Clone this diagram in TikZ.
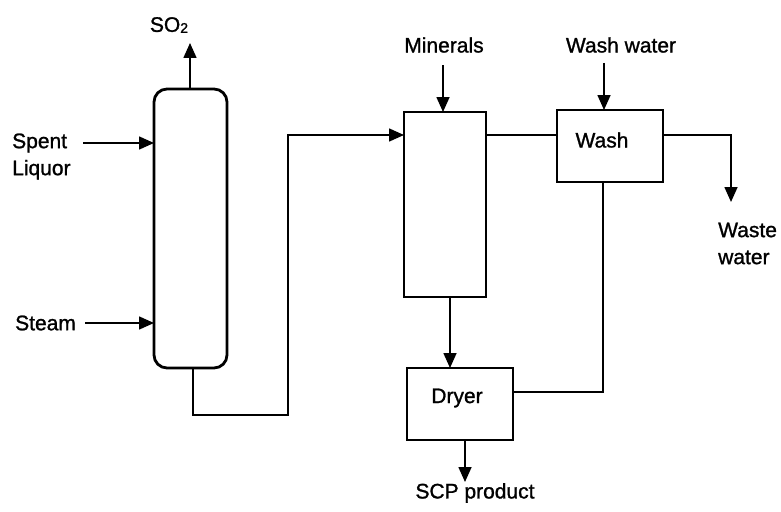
\documentclass[tikz,border=0pt]{standalone}
\usepackage{fontspec}
\setmainfont{Liberation Sans}[FakeBold=1.2]
\usetikzlibrary{arrows.meta,calc}
\begin{document}
\begin{tikzpicture}[x=1pt,y=-1pt,
  unit/.style={draw,line width=2.8pt,minimum width=#1,inner sep=0pt,outer sep=0pt},
  flow/.style={line width=1.6pt,-{Triangle[length=15pt,width=13pt]}},
  pipe/.style={line width=1.6pt},
  lbl/.style={font=\fontsize{21}{27}\selectfont,inner sep=0pt}]
\useasboundingbox (0,0) rectangle (781,511);
% units
\node[unit=73pt,minimum height=279pt,rounded corners=13pt] (col) at (190.5,228.5) {};
\node[unit=82pt,minimum height=185pt] (ferm) at (445,204.5) {};
\node[unit=106pt,minimum height=72pt] (wash) at (610,146) {};
\node[unit=106pt,minimum height=72pt] (dryer) at (460,404) {};
% unit texts
\node[lbl] (washt) at (602,140) {Wash};
\node[lbl] (dryert) at (457,398) {Dryer};
% stream labels
\node[lbl] (so2) at (169,25) {SO\raisebox{-1pt}{\fontsize{14}{14}\selectfont 2}};
\node[lbl,align=left,anchor=west] (spent) at (12,156.5) {Spent\\Liquor};
\node[lbl,anchor=west] (steam) at (15,323) {Steam};
\node[lbl] (min) at (444,45) {Minerals};
\node[lbl] (ww) at (621,45) {Wash water};
\node[lbl,align=left,anchor=west] (waste) at (718,243.5) {Waste\\water};
\node[lbl] (scp) at (475,493) {SCP product};
% free ends
\coordinate (so2e) at (190,43);
\coordinate (spente) at (83,143);
\coordinate (steame) at (85,323);
\coordinate (mine) at (443,65);
\coordinate (wwe) at (604,63);
\coordinate (wastee) at (731,202);
\coordinate (scpe) at (465,482);
% connectors
\draw[flow] (col.north -| so2e) -- (so2e);
\draw[flow] (spente) -- (spente -| col.west);
\draw[flow] (steame) -- (steame -| col.west);
\draw[flow] (col.south -| 193,0) -- (193,415) -- (288,415) -- (288,135) -- (ferm.west |- 0,135);
\draw[flow] (mine) -- (mine |- ferm.north);
\draw[pipe] (ferm.east |- 0,135) -- (wash.west |- 0,135);
\draw[flow] (wwe) -- (wwe |- wash.north);
\draw[flow] (wash.east |- 0,135) -- (wastee |- 0,135) -- (wastee);
\draw[pipe] (wash.south -| 603,0) -- (603,392) -- (dryer.east |- 0,392);
\draw[flow] (ferm.south -| 450,0) -- (dryer.north -| 450,0);
\draw[flow] (dryer.south -| scpe) -- (scpe);
\end{tikzpicture}
\end{document}
